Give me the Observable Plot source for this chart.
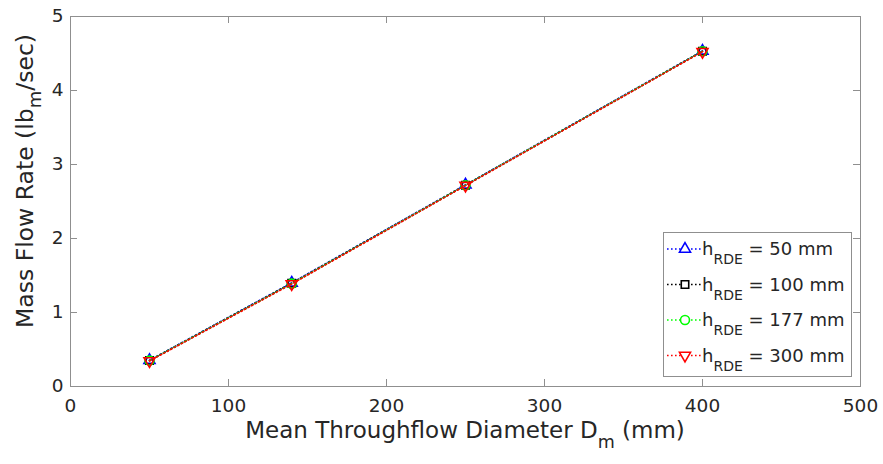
<!DOCTYPE html>
<html>
<head>
<meta charset="utf-8">
<script src="https://cdn.jsdelivr.net/npm/d3@7"></script>
<script src="https://cdn.jsdelivr.net/npm/@observablehq/plot@0.6"></script>
<style>
  html, body { margin: 0; padding: 0; background: #fff; }
  #chart { width: 883px; height: 464px; }
</style>
</head>
<body>
<div id="chart"></div>
<script>
// ---- data ----
const diameters = [50, 140, 250, 400];               // D_m (mm)
const seriesNames = ["50 mm", "100 mm", "177 mm", "300 mm"];
const flowH50  = [0.355, 1.40, 2.725, 4.535];
const flowH100 = [0.350, 1.395, 2.72, 4.53];
const flowH177 = [0.350, 1.39, 2.72, 4.53];
const flowH300 = [0.345, 1.385, 2.715, 4.525];
const xTicks = [0, 100, 200, 300, 400, 500];
const yTicks = [0, 1, 2, 3, 4, 5];

// ---- styles ----
const colors = ["#0000ff", "#000000", "#00ff00", "#ff0000"];
const triangleDown = {
  draw(context, size) {
    const y = -Math.sqrt(size / (Math.sqrt(3) * 3));
    context.moveTo(0, -y * 2);
    context.lineTo(-Math.sqrt(3) * y, y);
    context.lineTo(Math.sqrt(3) * y, y);
    context.closePath();
  }
};
const symbols = ["triangle", "square", "circle", triangleDown];
const radii = [4.1, 4.2, 4.5, 4.1];
const allFlows = [flowH50, flowH100, flowH177, flowH300];

const series = seriesNames.map((name, i) => ({
  name, color: colors[i], symbol: symbols[i], r: radii[i],
  points: diameters.map((d, j) => ({x: d, y: allFlows[i][j]}))
}));

const W = 883, H = 464;
const mL = 70, mR = 23, mT = 16, mB = 78;
const plotW = W - mL - mR, plotH = H - mT - mB;
const tickLen = 7;
const axisGray = "#8f8f8f";
const textColor = "#262626";
const font = "'DejaVu Sans', 'Liberation Sans', Arial, sans-serif";

const marks = [
  Plot.frame({stroke: axisGray, strokeWidth: 1}),
  Plot.ruleX(xTicks.slice(1, -1), {x: d => d, stroke: axisGray, insetTop: plotH - tickLen}),
  Plot.ruleX(xTicks.slice(1, -1), {x: d => d, stroke: axisGray, insetBottom: plotH - tickLen}),
  Plot.ruleY(yTicks.slice(1, -1), {y: d => d, stroke: axisGray, insetRight: plotW - tickLen}),
  Plot.ruleY(yTicks.slice(1, -1), {y: d => d, stroke: axisGray, insetLeft: plotW - tickLen}),
  Plot.text(xTicks, {x: d => d, y: 0, dy: 20, text: d => String(d), fill: textColor, fontSize: 18.5}),
  Plot.text(yTicks, {x: 0, y: d => d, dx: -7, textAnchor: "end", text: d => String(d), fill: textColor, fontSize: 18.5})
];
for (const s of series) {
  marks.push(Plot.line(s.points, {x: "x", y: "y", stroke: s.color, strokeWidth: 1.6, strokeDasharray: "1.6,2.4"}));
  marks.push(Plot.dot(s.points, {x: "x", y: "y", stroke: s.color, fill: "none", strokeWidth: 1.6, r: s.r, symbol: () => s.symbol}));
}

const chart = Plot.plot({
  width: W, height: H,
  marginLeft: mL, marginRight: mR, marginTop: mT, marginBottom: mB,
  x: {domain: [0, 500], axis: null},
  y: {domain: [0, 5], axis: null},
  style: {fontFamily: font, background: "#fff", overflow: "visible"},
  marks
});
document.getElementById("chart").appendChild(chart);

// ---- axis labels and legend (real SVG text with subscripts) ----
const svg = d3.select(chart);
const xl = svg.append("text")
  .attr("x", mL + plotW / 2).attr("y", 438)
  .attr("text-anchor", "middle")
  .attr("font-family", font).attr("font-size", 23).attr("fill", textColor);
xl.append("tspan").text("Mean Throughflow Diameter D");
xl.append("tspan").attr("font-size", 17.5).attr("dy", 10).text("m");
xl.append("tspan").attr("dy", -10).text(" (mm)");

const yl = svg.append("text")
  .attr("transform", "translate(33,181) rotate(-90)")
  .attr("text-anchor", "middle")
  .attr("font-family", font).attr("font-size", 23.5).attr("fill", textColor);
yl.append("tspan").text("Mass Flow Rate (lb");
yl.append("tspan").attr("font-size", 18).attr("dy", 8).text("m");
yl.append("tspan").attr("dy", -8).text("/sec)");

const lg = svg.append("g").attr("text-anchor", "start");
lg.append("rect").attr("x", 663.5).attr("y", 232.5).attr("width", 188).attr("height", 144)
  .attr("fill", "#fff").attr("stroke", axisGray).attr("stroke-width", 1);
series.forEach((s, i) => {
  const cy = 249 + i * 35.5;
  lg.append("line").attr("x1", 667).attr("x2", 701).attr("y1", cy).attr("y2", cy)
    .attr("stroke", s.color).attr("stroke-width", 1.6).attr("stroke-dasharray", "1.6,2.4");
  const sym = typeof s.symbol === "string"
    ? {triangle: d3.symbolTriangle, square: d3.symbolSquare, circle: d3.symbolCircle}[s.symbol]
    : s.symbol;
  lg.append("path").attr("transform", `translate(685,${cy})`)
    .attr("d", d3.symbol(sym, Math.PI * s.r * s.r)())
    .attr("fill", "#fff").attr("stroke", s.color).attr("stroke-width", 1.6);
  const t = lg.append("text").attr("x", 702).attr("y", cy + 6).attr("text-anchor", "start")
    .attr("font-family", font).attr("font-size", 18).attr("fill", textColor);
  t.append("tspan").text("h");
  t.append("tspan").attr("font-size", 14).attr("dy", 9).text("RDE");
  t.append("tspan").attr("dy", -9).text(" = " + s.name);
});
</script>
</body>
</html>
